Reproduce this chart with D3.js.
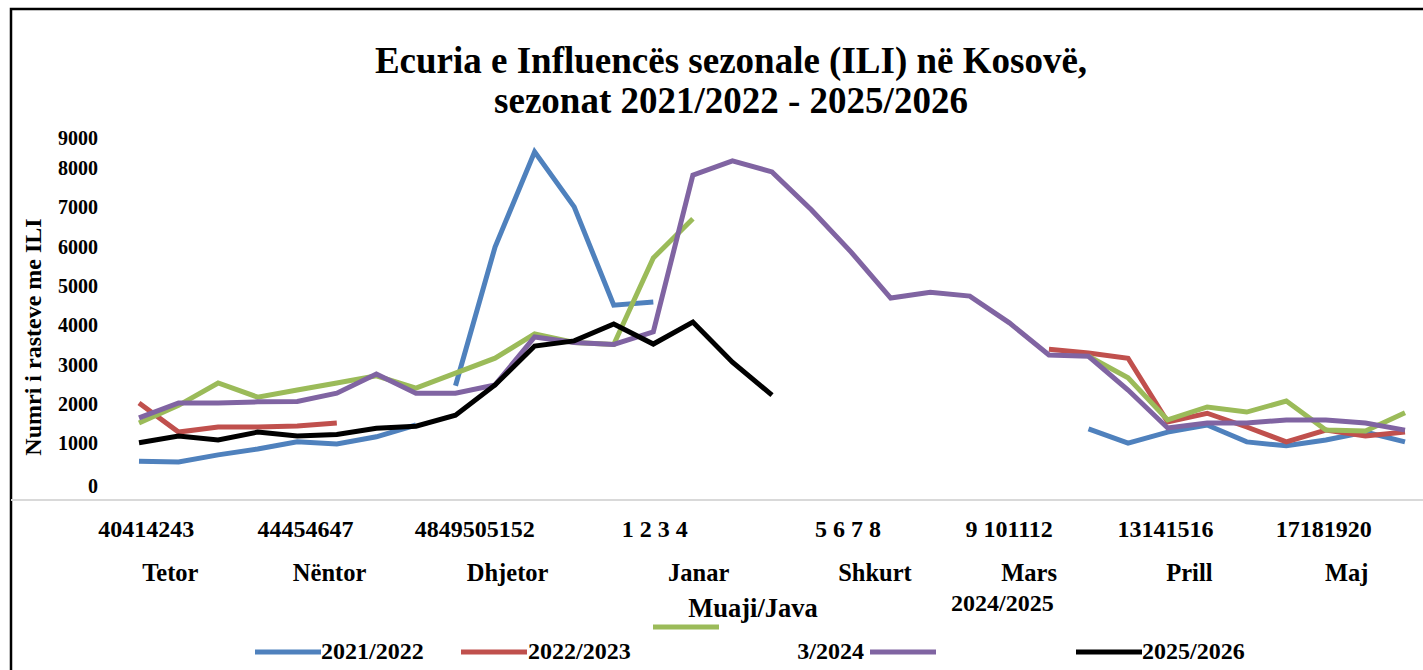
<!DOCTYPE html>
<html lang="sq">
  <head>
    <meta charset="utf-8" />
    <title>Ecuria e Influencës sezonale (ILI) në Kosovë</title>
    <script src="https://d3js.org/d3.v7.min.js"></script>
    <style>
      body { margin: 0; background: #fff; }
      svg {
        display: block;
        font-family: "Liberation Serif", "Times New Roman", serif;
        font-weight: bold;
      }
      .axis path, .axis line { display: none; }
      .axis text {
        font-family: "Liberation Serif", "Times New Roman", serif;
        font-size: 20px;
        fill: #000;
      }
      path.season { fill: none; stroke-width: 5px; }
    </style>
  </head>
  <body>
    <script>
      // week numbers of the season, Oct -> May
      const weeks = ["40","41","42","43","44","45","46","47","48","49","50","51","52",
                     "1","2","3","4","5","6","7","8","9","10","11","12",
                     "13","14","15","16","17","18","19","20"];
      const months = ["Tetor","Nëntor","Dhjetor","Janar","Shkurt","Mars","Prill","Maj"];
      const monthSizes = [4, 4, 5, 4, 4, 4, 4, 4];
      const yTicks = [0,1000,2000,3000,4000,5000,6000,7000,8000,9000];
      const seasons = ["2021/2022","2022/2023","2023/2024","2024/2025","2025/2026"];

      // ILI cases per week (null = not visible in the picture)
      const s2122 = [530,510,690,840,1025,965,1150,1450,2450,5980,8400,7000,4500,4580,
                     null,null,null,null,null,null,null,null,null,null,
                     1350,990,1270,1450,1020,920,1070,1270,1020];
      const s2223 = [2010,1270,1400,1400,1425,1500,null,null,null,null,null,null,null,
                     null,null,null,null,null,null,null,null,null,null,
                     3380,3280,3150,1530,1750,1400,1020,1320,1170,1270];
      const s2324 = [1500,1950,2520,2160,2340,2520,2700,2390,2770,3150,3770,3550,3500,
                     5700,6700,null,null,null,null,null,null,null,null,null,
                     3200,2650,1580,1910,1780,2060,1320,1300,1760];
      const s2425 = [1630,2010,2010,2040,2050,2260,2750,2260,2260,2470,3690,3550,3500,
                     3820,7810,8170,7890,6920,5850,4680,4830,4730,4050,3230,
                     3200,2340,1375,1500,1500,1580,1580,1500,1320];
      const s2526 = [1000,1170,1070,1270,1170,1210,1370,1420,1700,2470,3460,3590,4020,
                     3510,4070,3050,2210];

      // visible stretches of each line (first, last week index)
      const runs2122 = [[0, 7], [8, 13], [24, 32]];
      const runs2223 = [[0, 5], [23, 32]];
      const runs2324 = [[0, 14], [24, 32]];
      const runs2425 = [[0, 32]];
      const runs2526 = [[0, 16]];

      const colors = ["#4F81BD", "#C0504D", "#9BBB59", "#8064A2", "#000000"];

      const w = 1423, h = 670;
      const svg = d3.select("body").append("svg").attr("width", w).attr("height", h);

      let x = d3.scalePoint().domain(weeks).range([139, 1405]);
      let y = d3.scaleLinear().domain([0, 9000]).range([482, 128.3]);

      // frame + bottom rule
      svg.append("path")
        .attr("d", "M11,675V9H1430")
        .attr("fill", "none").attr("stroke", "#000").attr("stroke-width", 2.5);
      svg.append("line")
        .attr("x1", 11).attr("x2", w).attr("y1", 500).attr("y2", 500)
        .attr("stroke", "#d9d9d9").attr("stroke-width", 2);

      // title
      let title = svg.append("text").attr("text-anchor", "middle").attr("font-size", 37);
      title.append("tspan").attr("x", 731).attr("y", 73)
        .text("Ecuria e Influencës sezonale (ILI) në Kosovë,");
      title.append("tspan").attr("x", 731).attr("y", 113)
        .text("sezonat 2021/2022 - 2025/2026");

      // y axis
      let yAxis = d3.axisLeft(y).tickValues(yTicks).tickSize(0).tickPadding(0).tickFormat(d3.format("d"));
      let gy = svg.append("g").attr("class", "axis").attr("transform", "translate(98,0)").call(yAxis);
      const labelNudge = { 9000: 9, 0: 3 };
      gy.selectAll(".tick text")
        .attr("dy", (d) => (labelNudge[d] || 0) + 7 + "px");

      svg.append("text")
        .attr("transform", "translate(41,337) rotate(-90)")
        .attr("text-anchor", "middle").attr("font-size", 24)
        .text("Numri i rasteve me ILI");

      // x labels: weeks grouped by month
      const weekShift = [-52, -51, -60, -58, -23, -20, -22, -22];
      const monthShift = [-28, -27, -27, -14, 4, 0, 2, 1];
      let start = 0;
      months.forEach((m, k) => {
        let grp = weeks.slice(start, start + monthSizes[k]);
        let cx = (x(grp[0]) + x(grp[grp.length - 1])) / 2;
        let txt = grp.map((wk, i) => (wk.length === 1 && i < grp.length - 1 ? wk + " " : wk)).join("");
        svg.append("text").attr("x", cx + weekShift[k]).attr("y", 537)
          .attr("text-anchor", "middle").attr("font-size", 24).text(txt);
        svg.append("text").attr("x", cx + monthShift[k]).attr("y", 581)
          .attr("text-anchor", "middle").attr("font-size", 24.5).text(m);
        start += monthSizes[k];
      });

      svg.append("text").attr("x", 753).attr("y", 617)
        .attr("text-anchor", "middle").attr("font-size", 26.5).text("Muaji/Java");

      // lines
      const series = [s2122, s2223, s2324, s2425, s2526];
      const runs = [runs2122, runs2223, runs2324, runs2425, runs2526];

      series.forEach((vals, s) => {
        let ln = d3.line().x((i) => x(weeks[i])).y((i) => y(vals[i]));
        runs[s].forEach(([a, b]) => {
          svg.append("path")
            .attr("class", "season")
            .attr("stroke", colors[s])
            .attr("d", ln(d3.range(a, b + 1)));
        });
      });

      // legend (as laid out in the source picture)
      const legend = [
        { sx: 255, sy: 652, tx: 321, ty: 659, anchor: "start", text: seasons[0] },
        { sx: 461, sy: 652, tx: 528, ty: 659, anchor: "start", text: seasons[1] },
        { sx: 653, sy: 627, tx: 864, ty: 659, anchor: "end", text: seasons[2].slice(3) },
        { sx: 870, sy: 652, tx: 951, ty: 611, anchor: "start", text: seasons[3] },
        { sx: 1076, sy: 652, tx: 1142, ty: 659, anchor: "start", text: seasons[4] },
      ];
      legend.forEach((l, s) => {
        svg.append("line")
          .attr("x1", l.sx).attr("x2", l.sx + 66).attr("y1", l.sy).attr("y2", l.sy)
          .attr("stroke", colors[s]).attr("stroke-width", 5);
        svg.append("text").attr("x", l.tx).attr("y", l.ty)
          .attr("text-anchor", l.anchor).attr("font-size", 24).text(l.text);
      });
    </script>
  </body>
</html>
